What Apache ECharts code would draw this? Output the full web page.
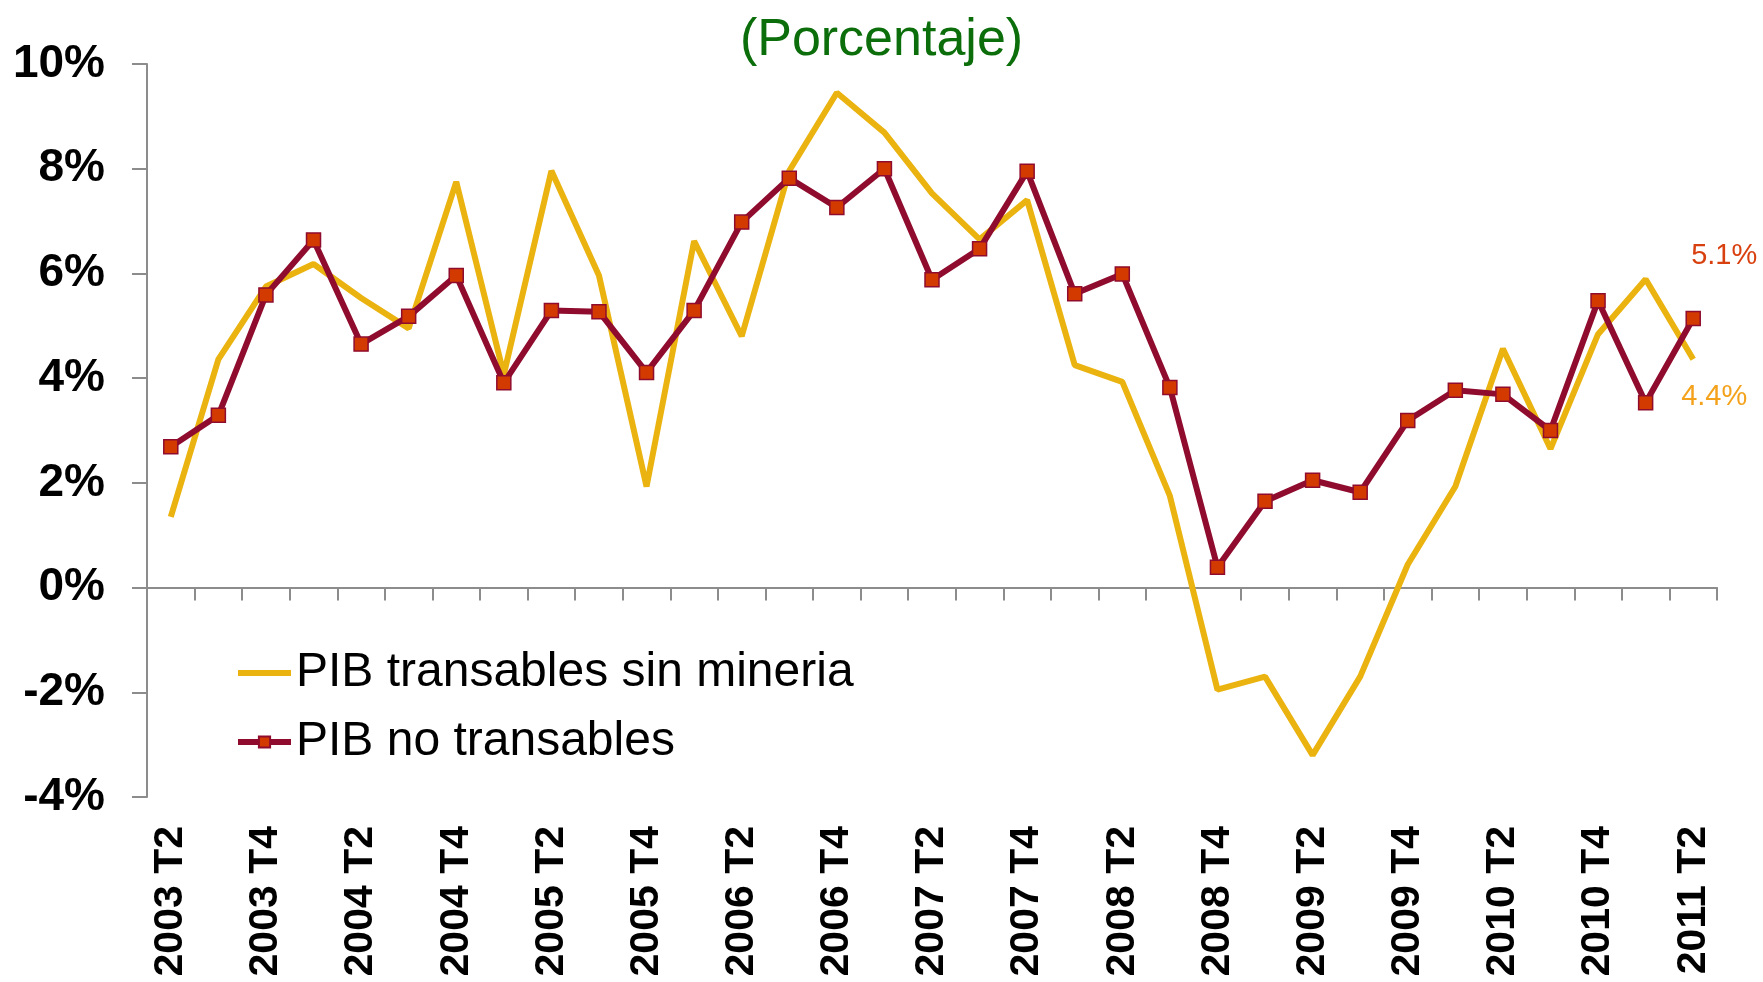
<!DOCTYPE html>
<html>
<head>
<meta charset="utf-8">
<script src="https://cdn.jsdelivr.net/npm/echarts@6/dist/echarts.min.js"></script>
<style>
html,body{margin:0;padding:0;background:#fff;}
#grafico{width:1763px;height:982px;}
</style>
</head>
<body>
<div id="grafico"></div>
<script>
// trimestres 2003 T2 - 2011 T2
var trimestres = [
  '2003 T2','2003 T3','2003 T4',
  '2004 T1','2004 T2','2004 T3','2004 T4',
  '2005 T1','2005 T2','2005 T3','2005 T4',
  '2006 T1','2006 T2','2006 T3','2006 T4',
  '2007 T1','2007 T2','2007 T3','2007 T4',
  '2008 T1','2008 T2','2008 T3','2008 T4',
  '2009 T1','2009 T2','2009 T3','2009 T4',
  '2010 T1','2010 T2','2010 T3','2010 T4',
  '2011 T1','2011 T2'
];
var transablesSinMineria = [1.35, 4.36, 5.75, 6.18, 5.53, 4.95, 7.75, 4.07, 7.96, 5.96, 1.93,
  6.62, 4.80, 7.96, 9.45, 8.69, 7.53, 6.65, 7.40, 4.25, 3.93, 1.75, -1.95,
  -1.70, -3.20, -1.70, 0.44, 1.93, 4.56, 2.65, 4.84, 5.89, 4.36];
var noTransables = [2.69, 3.29, 5.59, 6.64, 4.65, 5.18, 5.96, 3.91, 5.29, 5.27, 4.11,
  5.29, 6.98, 7.82, 7.26, 8.00, 5.88, 6.47, 7.95, 5.61, 5.99, 3.82, 0.39,
  1.65, 2.05, 1.82, 3.19, 3.77, 3.69, 3.00, 5.48, 3.53, 5.14];
var ejeY = {min: -4, max: 10, interval: 2};

var fuente = 'Liberation Sans, Arial, sans-serif';

// solo el ultimo punto lleva etiqueta
function conEtiqueta(arr, color, offset) {
  return arr.map(function (v, i) {
    if (i !== arr.length - 1) return v;
    return {
      value: v,
      label: {
        show: true,
        position: 'inside',
        offset: offset,
        formatter: function (p) { return p.value.toFixed(1) + '%'; },
        color: color,
        fontSize: 29,
        fontFamily: fuente
      }
    };
  });
}

var chart = echarts.init(document.getElementById('grafico'));
var option = {
  animation: false,
  title: {
    text: '(Porcentaje)',
    left: 'center',
    top: 10,
    textStyle: {color: '#0B6E0B', fontSize: 52, fontWeight: 'normal', fontFamily: fuente}
  },
  legend: {
    orient: 'vertical',
    left: 230,
    top: 643,
    itemWidth: 53,
    itemHeight: 14,
    itemGap: 19,
    textStyle: {color: '#000', fontSize: 48, lineHeight: 50, fontFamily: fuente},
    data: [
      {name: 'PIB transables sin mineria', icon: 'path://M0,0H53V6H0Z', itemStyle: {color: '#EAB30F'}},
      {name: 'PIB no transables', lineStyle: {width: 6, color: '#900C2E'}}
    ]
  },
  grid: {left: 147, right: 46, top: 64, bottom: 185},
  xAxis: [{
    type: 'category',
    data: trimestres,
    boundaryGap: true,
    axisLine: {onZero: true, lineStyle: {color: '#8c8c8c', width: 2}},
    axisTick: {show: true, interval: 0, length: 13, lineStyle: {color: '#8c8c8c', width: 2}},
    axisLabel: {show: false}
  }, {
    type: 'category',
    data: trimestres,
    position: 'bottom',
    boundaryGap: true,
    axisLine: {show: false, onZero: false},
    axisTick: {show: false},
    axisLabel: {
      interval: 1,
      rotate: 90,
      margin: 29,
      color: '#000',
      fontSize: 41,
      fontWeight: 'bold',
      fontFamily: fuente
    }
  }],
  yAxis: {
    type: 'value',
    min: ejeY.min,
    max: ejeY.max,
    interval: ejeY.interval,
    axisLine: {show: true, lineStyle: {color: '#8c8c8c', width: 2}},
    axisTick: {show: true, length: 15, lineStyle: {color: '#8c8c8c', width: 2}},
    splitLine: {show: false},
    axisLabel: {
      margin: 42,
      color: '#000',
      fontSize: 46,
      fontWeight: 'bold',
      fontFamily: fuente,
      formatter: function (v) { return v + '%'; }
    }
  },
  series: [{
    name: 'PIB transables sin mineria',
    type: 'line',
    xAxisIndex: 0,
    data: conEtiqueta(transablesSinMineria, '#F4A21B', [21, 38]),
    symbol: 'circle',
    symbolSize: 0,
    showSymbol: true,
    showAllSymbol: true,
    lineStyle: {color: '#EAB30F', width: 6},
    itemStyle: {color: '#EAB30F'},
    z: 2
  }, {
    name: 'PIB no transables',
    type: 'line',
    xAxisIndex: 0,
    data: conEtiqueta(noTransables, '#D9400F', [31, -62]),
    symbol: 'rect',
    symbolSize: 14,
    showAllSymbol: true,
    lineStyle: {color: '#900C2E', width: 6},
    itemStyle: {color: '#D23A00', borderColor: '#900C2E', borderWidth: 1.5},
    z: 3
  }]
};
chart.setOption(option);
</script>
</body>
</html>
